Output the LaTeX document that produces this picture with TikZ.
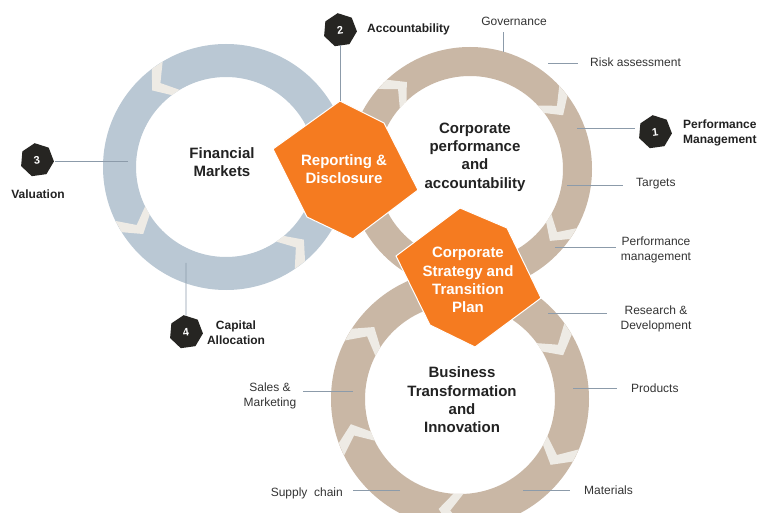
\documentclass[tikz,border=0pt]{standalone}
\usepackage{fontspec}
\setmainfont{Liberation Sans}
\usetikzlibrary{shapes.geometric}

\definecolor{ringblue}{RGB}{186,200,212}
\definecolor{ringtan}{RGB}{201,183,165}
\definecolor{hexorange}{RGB}{245,123,32}
\definecolor{chevfill}{RGB}{238,235,229}
\definecolor{badgedark}{RGB}{38,37,34}
\definecolor{leadergray}{RGB}{140,155,170}
\definecolor{labelgray}{RGB}{52,52,52}
\definecolor{titledark}{RGB}{34,34,34}

% chevron across a ring: centre, angle, bend (deg, sign = flow), inner r, outer r
\newcommand\chevronmark[5]{%
  \fill[chevfill, shift={(#1)}]
    ({#2-3}:#4) -- ({#2-3+(#3)}:{(#4+#5)/2}) -- ({#2-3}:#5) --
    ({#2+3}:#5) -- ({#2+3+(#3)}:{(#4+#5)/2}) -- ({#2+3}:#4) -- cycle;}

\tikzset{
  leader/.style={draw=leadergray, line width=0.8pt},
  smalllabel/.style={text=labelgray, inner sep=0pt, align=center,
    font=\fontsize{12}{15}\selectfont},
  boldlabel/.style={text=titledark, inner sep=0pt, align=center,
    font=\fontsize{12}{15}\selectfont\bfseries},
  ringtitle/.style={text=titledark, inner sep=0pt, align=center,
    font=\fontsize{15}{18.3}\selectfont\bfseries},
  hextitle/.style={text=white, inner sep=0pt, align=center,
    font=\fontsize{15}{18.3}\selectfont\bfseries},
  hexblock/.style={fill=hexorange, draw=white, line width=1pt, line join=miter},
  badge/.style={regular polygon, regular polygon sides=7, rotate=8,
    fill=badgedark, text=white, inner sep=0pt, minimum size=34pt,
    font=\fontsize{11}{11}\selectfont\bfseries},
}

\begin{document}
\begin{tikzpicture}[x=1pt, y=-1pt]
  \useasboundingbox (0,0) rectangle (758,513);
  \fill[white] (0,0) rectangle (758,513);
  \clip (0,0) rectangle (758,513);

  % ring centres
  \coordinate (fm) at (226,167);
  \coordinate (cp) at (470,169);
  \coordinate (bt) at (460,399);

  % Financial Markets ring
  \fill[ringblue, even odd rule] (fm) circle[radius=123] (fm) circle[radius=90];
  \chevronmark{fm}{236}{-7}{90}{123}
  \chevronmark{fm}{151}{-7}{90}{123}
  \chevronmark{fm}{53}{-7}{90}{123}

  % Corporate performance ring
  \fill[ringtan, even odd rule] (cp) circle[radius=122] (cp) circle[radius=93];
  \chevronmark{cp}{224}{7}{93}{122}
  \chevronmark{cp}{-40}{7}{93}{122}
  \chevronmark{cp}{32}{7}{93}{122}

  % Business Transformation ring
  \fill[ringtan, even odd rule] (bt) circle[radius=129] (bt) circle[radius=95];
  \chevronmark{bt}{-33}{7}{95}{129}
  \chevronmark{bt}{210}{7}{95}{129}
  \chevronmark{bt}{157}{7}{95}{129}
  \chevronmark{bt}{91}{7}{95}{129}
  \chevronmark{bt}{26}{7}{95}{129}

  % ring titles
  \node[ringtitle] (fmtitle) at (222,162) {Financial\\Markets};
  \node[ringtitle] (cptitle) at (475,157) {Corporate\\performance\\and\\accountability};
  \node[ringtitle] (bttitle) at (462,400) {Business\\Transformation\\and\\Innovation};

  % orange hexagons
  \coordinate (rep-top) at (340,101);
  \fill[hexblock] (rep-top) -- ++(44,22) -- ++(34,67) -- ++(-65,49) -- ++(-46,-22) -- ++(-34,-68) -- cycle;
  \node[hextitle] (rep) at (344,169) {Reporting \&\\Disclosure};

  \coordinate (cst-top) at (460,208);
  \fill[hexblock] (cst-top) -- ++(47,20) -- ++(34,70) -- ++(-66,49) -- ++(-45,-22) -- ++(-34,-69) -- cycle;
  \node[hextitle] (cst) at (468,280) {Corporate\\Strategy and\\Transition\\Plan};

  % numbered badges
  \node[badge] (b1) at (655,132) {1};
  \node[badge] (b2) at (340,30) {2};
  \node[badge] (b3) at (37,160) {3};
  \node[badge] (b4) at (186,332) {4};

  \node[boldlabel, anchor=west, align=left] (b1lab) at (683,133) {Performance\\Management};
  \node[boldlabel, anchor=west] (b2lab) at (367,29) {Accountability};
  \node[boldlabel] (b3lab) at (38,194) {Valuation};
  \node[boldlabel] (b4lab) at (236,333) {Capital\\Allocation};

  % badge leaders
  \draw[leader] (rep-top) -- (rep-top |- b2.south);
  \coordinate (b3-p) at (128,161);
  \draw[leader, shorten >=2pt] (b3-p) -- (b3-p -| b3.east);
  \coordinate (b4-p) at (186,263);
  \draw[leader] (b4-p) -- (b4);
  \coordinate (b1-p) at (577,128);
  \draw[leader, shorten >=4pt] (b1-p) -- (b1-p -| b1.west);

  % ring item labels
  \node[smalllabel] (gov) at (514,21) {Governance};
  \node[smalllabel, anchor=west] (risk) at (590,62) {Risk assessment};
  \node[smalllabel, anchor=west] (tgt) at (636,184) {Targets};
  \node[smalllabel] (pm) at (656,250) {Performance\\management};
  \node[smalllabel] (rd) at (656,319) {Research \&\\Development};
  \node[smalllabel, anchor=west] (prod) at (631,388) {Products};
  \node[smalllabel, anchor=west] (mat) at (584,490) {Materials};
  \node[smalllabel, anchor=east] (sc) at (343,493) {Supply\ \ chain};
  \node[smalllabel] (sm) at (270,396) {Sales \&\\Marketing};

  \coordinate (gov-p) at (503,52);
  \draw[leader, shorten >=7pt] (gov-p) -- (gov-p |- gov.south);
  \coordinate (risk-p) at (548,63);
  \draw[leader, shorten >=12pt] (risk-p) -- (risk-p -| risk.west);
  \coordinate (tgt-p) at (567,185);
  \draw[leader, shorten >=13pt] (tgt-p) -- (tgt-p -| tgt.west);
  \coordinate (pm-p) at (555,247);
  \draw[leader, shorten >=5pt] (pm-p) -- (pm-p -| pm.west);
  \coordinate (rd-p) at (548,313);
  \draw[leader, shorten >=13pt] (rd-p) -- (rd-p -| rd.west);
  \coordinate (prod-p) at (573,388);
  \draw[leader, shorten >=14pt] (prod-p) -- (prod-p -| prod.west);
  \coordinate (mat-p) at (523,490);
  \draw[leader, shorten >=14pt] (mat-p) -- (mat-p -| mat.west);
  \coordinate (sc-p) at (400,490);
  \draw[leader, shorten >=10pt] (sc-p) -- (sc-p -| sc.east);
  \coordinate (sm-p) at (353,391);
  \draw[leader, shorten >=6pt] (sm-p) -- (sm-p -| sm.east);
\end{tikzpicture}
\end{document}
